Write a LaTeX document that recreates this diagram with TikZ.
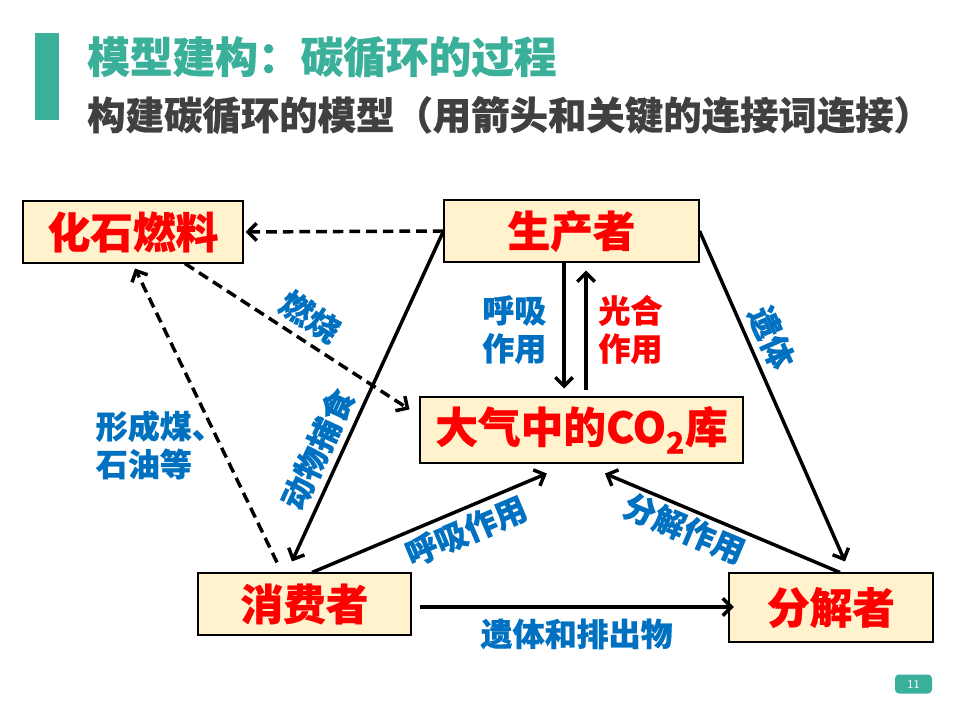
\documentclass[tikz,border=0pt]{standalone}
\usepackage{fontspec}
\newfontfamily\cjk{Noto Sans CJK SC}[BoldFeatures={FakeBold=0.6}]
\usetikzlibrary{arrows.meta,positioning}
\definecolor{qing}{RGB}{58,176,154}
\definecolor{boxfill}{RGB}{255,242,204}
\definecolor{hong}{RGB}{255,0,0}
\definecolor{lan}{RGB}{0,112,192}
\definecolor{hui}{RGB}{64,64,64}

\begin{document}
\begin{tikzpicture}[x=0.75pt,y=-0.75pt,
  box/.style={draw,fill=boxfill,line width=0.8pt,inner sep=0pt,text=hong,font=\cjk\bfseries\fontsize{32}{36}\selectfont},
  lbl/.style={text=lan,inner sep=1pt,align=left,font=\cjk\bfseries\fontsize{24}{28.5}\selectfont},
  arr/.style={line width=2.6pt,-{Straight Barb[length=6.5pt,width=13pt]}},
  dsh/.style={arr,dash pattern=on 8pt off 4.5pt}]
\useasboundingbox (0,0) rectangle (960,720);
\fill[qing] (35,33) rectangle (59,120);
\node[anchor=west,inner sep=0pt,text=qing,font=\cjk\bfseries\fontsize{32}{38}\selectfont] (title) at (87,57) {模型建构：碳循环的过程};
\node[anchor=west,inner sep=0pt,text=hui,font=\cjk\bfseries\fontsize{28.8}{34}\selectfont] (sub) at (87,115) {构建碳循环的模型（用箭头和关键的连接词连接）};
\node[fill=qing,rounded corners=3pt,minimum width=27.75pt,minimum height=14.25pt,inner sep=0pt,text=white,font=\sffamily\fontsize{9}{9}\selectfont] (page) at (913.5,684) {11};

\node[box,minimum width=165pt,minimum height=46.5pt] (hs) at (133,232) {化石燃料};
\node[box,minimum width=191.25pt,minimum height=46.5pt] (sc) at (571.5,231) {生产者};
\node[box,minimum width=242.25pt,minimum height=49.5pt] (dq) at (581.5,430) {大气中的CO\textsubscript{2}库};
\node[box,minimum width=159.75pt,minimum height=46.5pt] (xf) at (304.5,604) {消费者};
\node[box,minimum width=153pt,minimum height=51.75pt] (fj) at (831,607.5) {分解者};

\draw[dsh,shorten >=1.5pt] (sc.west) -- (hs.east);
\draw[dsh] ([xshift=39pt]hs.south) -- node[lbl,sloped,above=4pt] (ranshao) {燃烧} ([xshift=-7.5pt,yshift=-9.75pt]dq.north west);
\draw[dsh] ([xshift=-20.6pt,yshift=7.5pt]xf.north) -- node[lbl,pos=0.4,anchor=east,xshift=5pt] (xcm) {形成煤、\\石油等} ([xshift=1.5pt,yshift=-3.75pt]hs.south);
\draw[arr] (sc.west) -- node[lbl,sloped,above=4pt,pos=0.69] (buse) {动物捕食} ([xshift=-9.4pt,yshift=8.25pt]xf.north);
\draw[arr,shorten >=6pt] ([xshift=-5.6pt]sc.south) -- node[lbl,left=11pt] (huxi) {呼吸\\作用} ([xshift=-5.6pt]sc.south |- dq.north);
\draw[arr,shorten <=5pt,shorten >=6pt] ([xshift=10.9pt]sc.south |- dq.north) -- node[lbl,right=7pt,text=hong] (guanghe) {光合\\作用} ([xshift=10.9pt]sc.south);
\draw[arr] (sc.east) -- node[lbl,sloped,above=3.5pt,pos=0.35] (yiti) {遗体} ([xshift=10.5pt,yshift=8.25pt]fj.north);
\draw[arr] ([xshift=5.6pt]xf.north) -- node[lbl,sloped,below=2.5pt,pos=0.62] (huxi2) {呼吸作用} ([xshift=-26pt,yshift=-7.5pt]dq.south);
\draw[arr] ([xshift=6.75pt]fj.north) -- node[lbl,sloped,below=1pt,pos=0.63] (fenjie) {分解作用} ([xshift=17.6pt,yshift=-7.5pt]dq.south);
\draw[arr] ([xshift=6pt,yshift=-2.25pt]xf.east) -- node[lbl,below=6.5pt] (paichu) {遗体和排出物} ([xshift=4pt,yshift=-2.25pt]xf.east -| fj.west);
\end{tikzpicture}
\end{document}
